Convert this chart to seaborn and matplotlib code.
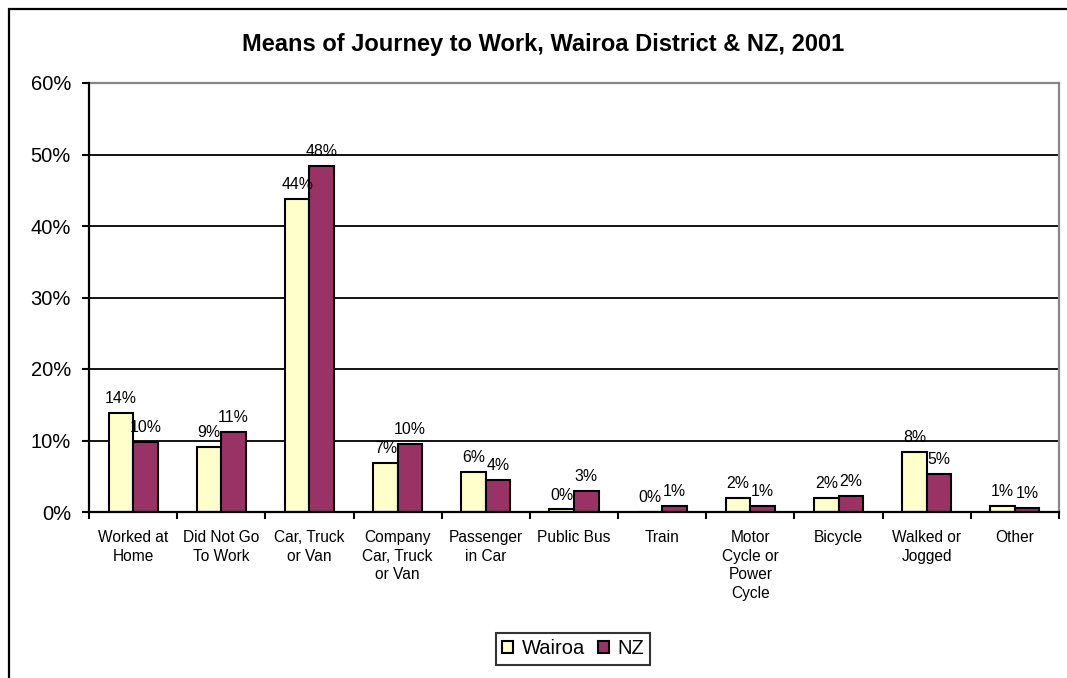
import matplotlib
matplotlib.use("Agg")
import matplotlib.pyplot as plt
import seaborn as sns
import pandas as pd
from matplotlib.patches import Rectangle

categories = ["Worked at Home", "Did Not Go To Work", "Car, Truck or Van",
              "Company Car, Truck or Van", "Passenger in Car", "Public Bus",
              "Train", "Motor Cycle or Power Cycle", "Bicycle",
              "Walked or Jogged", "Other"]
tick_labels = ["Worked at\nHome", "Did Not Go\nTo Work", "Car, Truck\nor Van",
               "Company\nCar, Truck\nor Van", "Passenger\nin Car", "Public Bus",
               "Train", "Motor\nCycle or\nPower\nCycle", "Bicycle",
               "Walked or\nJogged", "Other"]
series = ["Wairoa", "NZ"]
wairoa = [13.9, 9.1, 43.8, 6.9, 5.6, 0.35, 0.0, 2.0, 1.9, 8.35, 0.8]
nz = [9.75, 11.15, 48.4, 9.5, 4.45, 3.0, 0.9, 0.9, 2.3, 5.35, 0.55]
yticks = [0, 10, 20, 30, 40, 50, 60]

df = pd.DataFrame({
    "cat": categories * 2,
    "series": [series[0]] * len(categories) + [series[1]] * len(categories),
    "val": wairoa + nz,
})

sns.set_theme(style="white")
plt.rcParams["font.family"] = ["Liberation Sans", "DejaVu Sans"]

W, H = 1067, 678
fig = plt.figure(figsize=(W / 100, H / 100), dpi=100)
ax = fig.add_axes([89 / W, 1 - 512 / H, (1059 - 89) / W, (512 - 83) / H])

sns.barplot(data=df, x="cat", y="val", hue="series", order=categories,
            hue_order=series, palette=["#FFFFCC", "#993366"], width=0.556,
            edgecolor="black", linewidth=1.5, ax=ax, saturation=1, zorder=3)

ax.set_ylim(0, 60)
ax.set_xlim(-0.5, len(categories) - 0.5)
ax.set_yticks(yticks)
ax.set_yticklabels([f"{v}%" for v in yticks], fontsize=14.5, color="black")
ax.set_xticks(range(len(categories)))
ax.set_xticklabels(tick_labels, fontsize=11.2, linespacing=1.3, va="top", color="black")
ax.tick_params(axis="x", which="major", length=0, pad=13)
ax.set_xticks([i - 0.5 for i in range(len(categories) + 1)], minor=True)
ax.tick_params(axis="x", which="minor", length=5, width=1.5, color="black", direction="out", bottom=True)
ax.tick_params(axis="y", length=5, width=1.5, color="black", direction="out", left=True, pad=8)
ax.set_xlabel("")
ax.set_ylabel("")

for y in yticks[1:-1]:
    ax.axhline(y, color="black", lw=1.3, zorder=1)

for s in ["left", "bottom"]:
    ax.spines[s].set_color("black")
    ax.spines[s].set_linewidth(1.6)
    ax.spines[s].set_zorder(4)
for s in ["top", "right"]:
    ax.spines[s].set_color("#888888")
    ax.spines[s].set_linewidth(1.6)

for cont in ax.containers:
    ax.bar_label(cont, labels=[f"{round(b.get_height()):.0f}%" for b in cont],
                 padding=5, fontsize=11.4, color="black")

leg = ax.legend(loc="center", bbox_to_anchor=(573 / W, 1 - 649 / H),
                bbox_transform=fig.transFigure, ncol=2, frameon=True,
                fontsize=14.5, handlelength=0.55, handleheight=0.55,
                handletextpad=0.4, columnspacing=0.65, borderpad=0.3,
                fancybox=False, labelcolor="black")
leg.get_frame().set_edgecolor("black")
leg.get_frame().set_linewidth(1.5)
for h in leg.legend_handles:
    h.set_edgecolor("black")
    h.set_linewidth(1.5)

fig.text(543 / W, 1 - 45 / H, "Means of Journey to Work, Wairoa District & NZ, 2001",
         ha="center", va="center", fontsize=17, fontweight="bold", color="black")

fig.patches.append(Rectangle((9 / W, -0.1), 1.2, 1 - 9 / H + 0.1,
                             transform=fig.transFigure, fill=False,
                             edgecolor="black", lw=1.6))

fig.savefig("out.png", dpi=100, facecolor="white")
